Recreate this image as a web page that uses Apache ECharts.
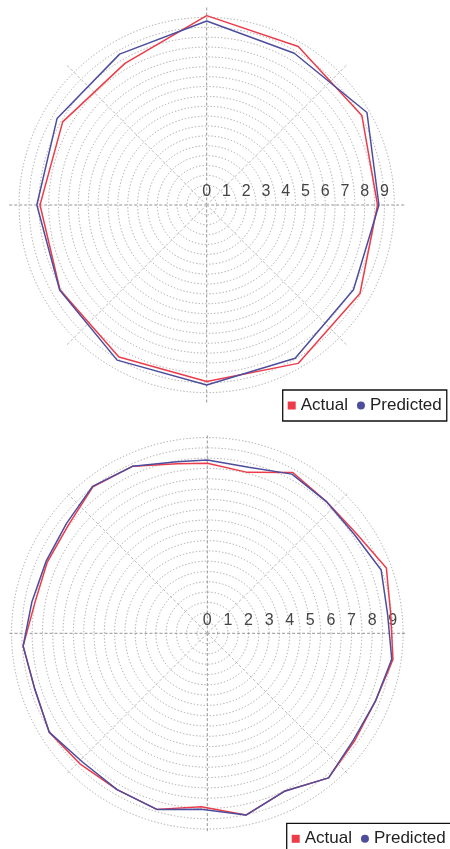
<!DOCTYPE html>
<html>
<head>
<meta charset="utf-8">
<script src="https://cdn.jsdelivr.net/npm/echarts@6/dist/echarts.min.js"></script>
<style>
html,body{margin:0;padding:0;background:#fff;}
#chart{width:450px;height:849px;}
</style>
</head>
<body>
<div id="chart"></div>
<script>
// ---- data (angles in compass degrees: 0 = up, clockwise) ----
const seriesNames = ['Actual', 'Predicted'];
const radiusTickLabels = ['0','1','2','3','4','5','6','7','8','9'];

const topAngles = [0, 30, 60, 90, 120, 150, 180, 210, 240, 270, 300, 330];
const topActual = [9.59, 9.27, 9.07, 8.65, 8.96, 9.26, 8.94, 8.89, 8.58, 8.44, 8.42, 8.28];
const topPredicted = [9.32, 8.87, 9.37, 8.72, 8.58, 8.96, 9.11, 9.07, 8.60, 8.60, 8.75, 8.82];

const bottomAngles = [0, 14, 28, 42, 56, 70, 84, 98, 112, 126, 140, 154, 168, 182, 196, 210, 224, 238, 252, 266, 280, 294, 308, 322, 336, 350];
const bottomActual = [8.25, 8.05, 8.84, 8.62, 8.70, 9.25, 8.95, 9.10, 8.80, 8.85, 9.16, 8.53, 9.02, 8.42, 8.89, 8.76, 8.85, 9.05, 8.80, 8.96, 8.50, 8.50, 8.55, 9.02, 8.88, 8.35];
const bottomPredicted = [8.41, 8.31, 8.75, 8.62, 8.60, 8.98, 8.80, 9.04, 8.80, 8.78, 9.16, 8.53, 9.02, 8.55, 8.89, 8.76, 8.70, 9.05, 8.80, 8.96, 8.65, 8.57, 8.67, 9.05, 8.88, 8.45];

const topMax = 10;
const bottomMax = 9.6;

// ---- helpers ----
function toAxisAngle(a) { return (a + 270) % 360; }
function closedPoints(angles, radii) {
  const pts = angles.map((a, i) => [radii[i], toAxisAngle(a)]);
  pts.push(pts[0].slice());
  return pts;
}
function circleColors(max) {
  const steps = max / 0.5;
  const n = Math.floor(steps + 1e-9) + 1 + (steps % 1 > 1e-9 ? 1 : 0);
  const arr = [];
  for (let i = 0; i < n; i++) arr.push(i === n - 1 ? 'rgba(0,0,0,0)' : '#a9a6a3');
  return arr;
}
const RED = '#ec3c4a';
const BLUE = '#4d4d9e';

function angleAxis(idx) {
  return {
    polarIndex: idx, type: 'value', min: 0, max: 360, interval: 45,
    startAngle: 0, clockwise: true,
    axisLine: {show: false}, axisTick: {show: false}, axisLabel: {show: false},
    splitLine: {show: true, lineStyle: {color: ['#959595', '#bdbdbd'], width: 1, type: [3, 2]}}
  };
}
function radiusAxis(idx, max) {
  return {
    polarIndex: idx, type: 'value', min: 0, max: max, interval: 0.5,
    axisLine: {show: false}, axisTick: {show: false},
    axisLabel: {
      show: true, margin: 5, color: '#444', fontSize: 16, fontFamily: 'Liberation Sans',
      formatter: v => (Number.isInteger(v) && v < radiusTickLabels.length) ? radiusTickLabels[v] : ''
    },
    splitLine: {show: true, lineStyle: {color: circleColors(max), width: 1, type: [1.3, 2]}}
  };
}
function lineSeries(name, idx, data, color) {
  return {
    name: name, type: 'line', coordinateSystem: 'polar', polarIndex: idx,
    data: data, symbol: 'none', animation: false,
    lineStyle: {color: color, width: 1.5}, itemStyle: {color: color}
  };
}
function legend(left, top) {
  return {
    left: left, top: top, width: 300, orient: 'horizontal',
    borderColor: '#111', borderWidth: 1.3, padding: [7, 5, 7, 5],
    itemWidth: 8, itemHeight: 8, itemGap: 9,
    textStyle: {fontSize: 17, color: '#222', fontFamily: 'Liberation Sans'},
    data: [{name: seriesNames[0], icon: 'rect'}, {name: seriesNames[1], icon: 'circle'}]
  };
}

const chart = echarts.init(document.getElementById('chart'), null, {renderer: 'canvas'});
chart.setOption({
  animation: false,
  backgroundColor: '#fff',
  polar: [
    {center: [206.7, 205], radius: 197.5},
    {center: [207.3, 633.3], radius: 197.8}
  ],
  angleAxis: [angleAxis(0), angleAxis(1)],
  radiusAxis: [radiusAxis(0, topMax), radiusAxis(1, bottomMax)],
  legend: [legend(282.7, 390), legend(286.7, 823.3)],
  series: [
    lineSeries(seriesNames[0], 0, closedPoints(topAngles, topActual), RED),
    lineSeries(seriesNames[1], 0, closedPoints(topAngles, topPredicted), BLUE),
    lineSeries(seriesNames[0], 1, closedPoints(bottomAngles, bottomActual), RED),
    lineSeries(seriesNames[1], 1, closedPoints(bottomAngles, bottomPredicted), BLUE)
  ]
});
</script>
</body>
</html>
